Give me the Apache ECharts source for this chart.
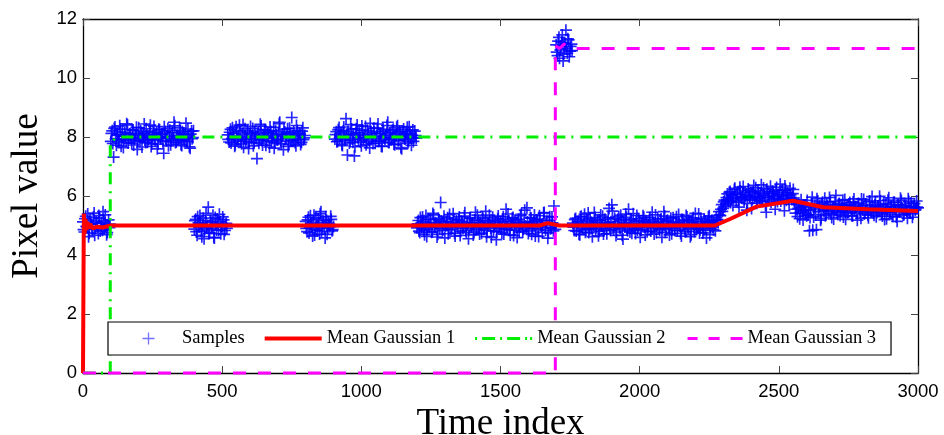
<!DOCTYPE html>
<html>
<head>
<meta charset="utf-8">
<script src="https://cdn.jsdelivr.net/npm/echarts@6/dist/echarts.min.js"></script>
<style>
  html, body { margin: 0; padding: 0; background: #fff; }
  #chart { width: 944px; height: 435px; }
</style>
</head>
<body>
<div id="chart"></div>
<script>
// Time index spacing between consecutive stored samples within a run
const SAMPLE_STEP = 5;

// First time index of each run (two interleaved passes)
const runStarts = [0, 100, 400, 520, 800, 905, 1200, 1700, 1760, 2280, 2560];
const runStarts2 = [2, 102, 402, 522, 802, 907, 1202, 1702, 1762, 2282, 2562];

// Pixel values, first pass (t = start, start+5, ...)
const samplesA = [5.12, 4.78, 5.31, 4.95, 4.62, 5.18, 5.04, 4.87, 5.42, 4.91, 5.08, 4.73, 5.25, 4.98, 4.84, 5.15, 5.36, 4.69, 5.02, 4.93];
const samplesB = [7.85, 8.21, 7.32, 8.34, 7.72, 8.08, 7.91, 8.27, 8.02, 7.64, 8.15, 7.88, 8.41, 7.97, 8.11, 7.79, 8.23, 7.93, 8.05, 7.58,
                  8.31, 7.86, 8.12, 7.99, 8.44, 7.81, 8.07, 7.92, 8.19, 7.68, 8.03, 8.36, 7.89, 8.14, 7.76, 8.25, 7.95, 8.09, 7.45, 8.18,
                  7.87, 8.29, 8.01, 7.74, 8.16, 7.94, 8.38, 7.83, 8.06, 7.97, 8.22, 7.71, 8.13, 7.9, 8.47, 7.84, 8.04, 7.62, 8.2, 7.98];
const samplesC = [4.88, 5.21, 4.67, 5.09, 5.34, 4.81, 5.02, 4.55, 5.17, 4.93, 5.62, 4.76, 5.11, 4.98, 4.6, 5.27, 4.85, 5.05, 5.38, 4.72, 4.96, 5.19, 4.83, 5.07];
const samplesD = [8.07, 7.83, 8.26, 7.95, 8.12, 7.69, 8.35, 7.9, 8.03, 8.18, 7.77, 8.42, 7.98, 7.86, 8.21, 7.61, 8.1, 7.94, 8.29, 7.81,
                  8.05, 7.27, 8.15, 7.92, 8.37, 7.73, 8.01, 8.24, 7.88, 8.11, 7.66, 8.19, 7.96, 8.33, 7.8, 8.08, 7.91, 8.45, 7.85, 8.02,
                  7.57, 8.17, 7.99, 8.28, 7.75, 8.13, 8.66, 7.89, 8.06, 7.7, 8.22, 7.93, 8.09, 7.82, 8.31, 7.97];
const samplesE = [5.14, 4.79, 5.28, 4.92, 5.06, 4.64, 5.35, 4.87, 5.01, 5.22, 4.71, 5.47, 4.95, 5.1, 4.58, 5.18, 4.9, 5.04, 5.31, 4.82, 4.97];
const samplesF = [7.93, 8.18, 7.86, 8.32, 8.04, 7.75, 8.21, 7.97, 8.62, 7.39, 8.09, 7.88, 8.27, 7.82, 7.36, 8.14, 8.41, 7.91, 8.06, 7.7,
                  8.23, 7.99, 8.36, 7.84, 8.11, 7.63, 8.17, 7.95, 8.3, 7.79, 8.03, 8.44, 7.87, 8.12, 7.68, 8.2, 7.92, 8.08, 8.5, 7.81,
                  8.15, 7.96, 8.26, 7.74, 8.02, 8.38, 7.89, 8.13, 7.6, 8.19, 7.94, 8.07, 8.33, 7.85, 8.1, 7.72, 8.24, 7.98, 8.05];
const samplesG = [4.92, 5.17, 4.76, 5.08, 5.29, 4.85, 5.01, 4.63, 5.22, 4.94, 5.11, 4.8, 5.36, 4.97, 5.05, 4.7, 5.19, 5.78, 4.89, 5.13,
                  4.58, 5.03, 5.26, 4.86, 5.1, 4.95, 5.4, 4.74, 5.07, 4.99, 5.2, 4.66, 5.14, 4.9, 5.32, 4.83, 5.04, 4.55, 5.24, 4.96,
                  5.09, 4.78, 5.45, 4.93, 5.16, 4.71, 5.02, 5.28, 4.87, 5.12, 4.62, 5.06, 5.35, 4.91, 5.18, 4.81, 5.0, 4.52, 5.23, 4.97,
                  5.1, 4.75, 5.3, 4.88, 5.55, 4.93, 5.15, 4.68, 5.04, 5.27, 4.84, 5.08, 4.59, 5.21, 4.95, 5.38, 4.79, 5.11, 4.98, 5.6,
                  4.73, 5.06, 5.25, 4.9, 5.13, 4.64, 5.19, 4.86, 5.33, 5.01, 4.77, 5.42, 4.94, 5.09, 4.57, 5.17, 4.89, 5.29, 4.82, 5.03];
const samplesH = [11.12, 10.76, 11.38, 10.95, 11.21, 10.58, 11.05, 11.62, 10.84, 11.29, 10.91, 11.15];
const samplesI = [5.08, 4.83, 5.24, 4.96, 5.14, 4.69, 5.31, 4.9, 5.05, 4.77, 5.19, 5.42, 4.87, 5.11, 4.62, 5.02, 5.27, 4.93, 5.16, 4.8,
                  5.36, 4.98, 4.71, 5.21, 4.89, 5.09, 5.58, 4.84, 5.7, 4.95, 5.25, 4.66, 5.04, 5.3, 4.91, 5.17, 4.54, 5.07, 5.39, 4.86,
                  5.55, 4.78, 5.22, 4.97, 5.03, 4.73, 5.34, 4.92, 5.15, 4.85, 5.01, 5.28, 4.68, 5.1, 4.94, 5.2, 4.81, 5.45, 4.99, 5.06,
                  4.76, 5.23, 4.9, 5.14, 4.6, 5.08, 5.32, 4.87, 5.18, 4.95, 5.02, 4.72, 5.26, 4.93, 5.11, 4.84, 5.37, 4.98, 4.64, 5.16,
                  5.05, 4.79, 5.29, 4.91, 5.12, 4.69, 5.2, 4.96, 5.41, 4.88, 5.07, 4.75, 5.24, 5.0, 4.83, 5.15, 4.58, 5.1, 5.33, 4.92,
                  5.18, 4.86, 5.04, 5.27];
const samplesJ = [5.2, 5.47, 5.33, 5.71, 5.58, 5.86, 5.74, 6.07, 5.82, 6.15, 5.9, 5.68, 6.22, 5.97, 6.05, 5.79, 6.3, 5.93, 6.11, 5.85,
                  6.01, 5.52, 6.24, 5.96, 6.13, 5.88, 6.36, 5.99, 5.76, 6.18, 5.92, 6.06, 5.83, 6.27, 6.0, 5.45, 6.14, 5.94, 6.33, 5.87,
                  6.09, 5.98, 6.21, 5.81, 6.04, 6.4, 5.91, 6.12, 5.5, 6.19, 6.02, 5.89, 6.26, 5.95, 6.08, 5.84];
const samplesK = [5.42, 5.71, 5.58, 5.23, 5.87, 5.5, 5.5, 5.64, 5.33, 5.36, 4.82, 5.55, 5.96, 5.29, 5.68, 4.86, 5.83, 5.61, 5.18, 5.74,
                  5.53, 5.92, 5.38, 5.66, 5.49, 5.8, 5.27, 5.63, 5.57, 6.02, 5.44, 5.72, 5.34, 5.59, 5.86, 5.51, 5.21, 5.69, 5.46, 5.78,
                  5.56, 5.32, 5.9, 5.62, 5.41, 5.75, 5.54, 5.25, 5.67, 5.88, 5.48, 5.6, 5.35, 5.81, 5.52, 5.98, 5.43, 5.7, 5.3, 5.65,
                  5.5, 5.84, 5.39, 5.58, 5.2, 5.73, 5.55, 5.94, 5.45, 5.66, 5.31, 5.79, 5.53, 5.14, 5.69, 5.47, 5.85, 5.57, 5.37, 5.62,
                  5.49, 5.91, 5.42, 5.76, 5.28, 5.64, 5.52, 5.83, 5.6];

// Pixel values, second pass (t = start2, start2+5, ...)
const samplesA2 = [4.86, 5.23, 4.97, 5.39, 4.74, 5.06, 4.9, 5.28, 4.67, 5.13, 4.95, 5.34, 4.81, 5.09, 5.47, 4.89, 5.01, 4.76, 5.19, 5.05];
const samplesB2 = [8.12, 7.78, 8.29, 7.94, 8.06, 7.83, 8.38, 7.69, 8.17, 7.92, 8.03, 8.45, 7.8, 8.1, 7.96, 8.24, 7.73, 8.07, 8.33, 7.87,
                   7.99, 8.2, 7.66, 8.13, 7.9, 8.28, 7.82, 8.04, 8.4, 7.77, 8.16, 7.93, 8.09, 7.6, 8.26, 7.98, 8.11, 7.84, 8.35, 7.95,
                   8.02, 7.7, 8.23, 7.89, 8.14, 8.5, 7.81, 8.05, 7.92, 8.31, 7.75, 8.18, 7.97, 8.08, 7.86, 8.27, 7.67, 8.1, 7.94, 8.21];
const samplesC2 = [5.16, 4.79, 5.3, 4.94, 5.08, 4.62, 5.25, 4.87, 5.41, 5.0, 4.73, 5.14, 4.91, 5.35, 4.58, 5.06, 5.22, 4.84, 5.12, 4.97, 5.29, 4.7, 5.03, 4.9];
const samplesD2 = [7.92, 8.16, 7.8, 8.31, 8.0, 7.74, 8.22, 7.97, 8.4, 7.85, 8.09, 7.65, 8.28, 7.93, 8.14, 7.82, 8.36, 8.01, 7.7, 8.19,
                   7.95, 8.11, 7.79, 8.43, 7.88, 8.06, 8.25, 7.72, 8.15, 7.98, 8.34, 7.84, 8.04, 7.62, 8.21, 7.9, 8.12, 8.5, 7.77, 8.07,
                   8.27, 7.94, 8.1, 7.68, 8.3, 7.87, 8.02, 8.18, 7.81, 8.39, 7.96, 8.13, 7.75, 8.2, 7.91, 8.05];
const samplesE2 = [4.9, 5.19, 4.75, 5.33, 4.98, 5.11, 4.68, 5.26, 4.84, 5.05, 5.4, 4.8, 5.16, 4.93, 5.3, 4.7, 5.08, 4.96, 5.21, 4.86];
const samplesF2 = [8.08, 7.84, 8.25, 7.96, 8.13, 7.71, 8.34, 7.9, 8.05, 8.19, 7.8, 8.42, 7.93, 8.1, 7.67, 8.28, 7.98, 8.15, 7.83, 8.37,
                   7.94, 8.07, 7.74, 8.23, 7.89, 8.46, 8.01, 7.78, 8.17, 7.95, 8.3, 7.86, 8.11, 7.69, 8.26, 7.97, 8.04, 8.39, 7.82, 8.14,
                   7.91, 8.22, 7.76, 8.09, 8.33, 7.88, 8.18, 7.64, 8.03, 8.27, 7.93, 8.12, 7.79, 8.35, 7.99, 8.06, 7.85, 8.2, 7.96];
const samplesG2 = [5.06, 4.81, 5.27, 4.93, 5.13, 4.69, 5.34, 4.88, 5.02, 5.2, 4.77, 5.41, 4.95, 5.09, 4.61, 5.24, 4.91, 5.15, 4.83, 5.31,
                   4.98, 5.12, 4.72, 5.37, 4.87, 5.05, 5.22, 4.64, 5.17, 4.94, 5.29, 4.8, 5.08, 4.97, 5.43, 4.76, 5.11, 4.9, 5.26, 5.03,
                   4.68, 5.19, 4.86, 5.35, 4.96, 5.1, 4.74, 5.23, 4.92, 5.48, 4.83, 5.07, 5.16, 4.6, 5.28, 4.95, 5.13, 4.79, 5.32, 5.0,
                   4.89, 5.21, 4.71, 5.14, 4.97, 5.39, 4.85, 5.06, 5.25, 4.66, 5.18, 4.93, 5.1, 4.78, 5.33, 5.02, 4.88, 5.52, 4.95, 5.12,
                   4.82, 5.27, 4.7, 5.08, 5.36, 4.9, 5.15, 4.63, 5.22, 4.98, 5.04, 5.44, 4.84, 5.17, 4.75, 5.3, 4.92, 5.09, 5.66, 4.87];
const samplesH2 = [10.88, 11.25, 10.67, 11.09, 11.46, 10.81, 11.18, 10.99, 11.33, 10.72, 11.07, 10.93];
const samplesI2 = [4.94, 5.2, 4.81, 5.12, 4.7, 5.29, 4.97, 5.06, 5.38, 4.85, 5.15, 4.76, 5.24, 4.91, 5.03, 5.44, 4.88, 5.1, 4.65, 5.18,
                   4.99, 5.31, 4.83, 5.07, 4.72, 5.26, 4.95, 5.13, 5.49, 4.86, 5.02, 4.78, 5.21, 4.93, 5.35, 4.67, 5.11, 4.96, 5.28, 4.82,
                   5.05, 5.19, 4.74, 5.4, 4.9, 5.14, 4.84, 5.23, 4.6, 5.08, 5.33, 4.95, 5.16, 4.79, 5.02, 5.27, 4.89, 5.12, 4.71, 5.36,
                   4.98, 5.09, 4.85, 5.22, 4.92, 5.47, 4.77, 5.15, 5.04, 4.68, 5.25, 4.9, 5.11, 4.83, 5.3, 4.96, 5.07, 4.73, 5.2, 5.01,
                   4.87, 5.34, 4.94, 5.17, 4.62, 5.1, 5.26, 4.8, 5.05, 4.97, 5.39, 4.86, 5.13, 4.75, 5.21, 4.91, 5.03, 5.29, 4.69, 5.14,
                   4.95, 5.08, 4.82, 5.18];
const samplesJ2 = [5.1, 5.36, 5.55, 5.48, 5.8, 5.64, 5.95, 5.87, 6.12, 5.78, 6.03, 5.92, 6.26, 5.84, 6.08, 5.62, 6.17, 5.96, 6.32, 5.89,
                   6.05, 5.75, 6.2, 5.99, 5.58, 6.14, 5.93, 6.28, 5.86, 6.1, 5.97, 6.38, 5.81, 6.02, 5.68, 6.23, 5.94, 6.09, 5.79, 6.16,
                   6.0, 5.55, 6.29, 5.91, 6.06, 5.83, 6.19, 5.97, 6.34, 5.86, 6.11, 5.72, 6.04, 5.93, 6.22, 5.8];
const samplesK2 = [5.55, 5.3, 5.76, 5.44, 5.62, 5.19, 5.68, 5.4, 5.85, 5.52, 5.27, 5.73, 4.84, 5.6, 5.36, 5.91, 5.47, 5.65, 5.24, 5.79,
                   5.5, 5.33, 5.7, 5.58, 5.95, 5.41, 5.63, 5.22, 5.82, 5.54, 5.37, 5.75, 5.49, 5.67, 5.29, 5.88, 5.56, 5.43, 5.71, 5.6,
                   5.34, 5.8, 5.51, 5.64, 5.18, 5.74, 5.46, 5.9, 5.57, 5.39, 5.69, 5.53, 5.26, 5.83, 5.48, 5.61, 5.35, 5.77, 5.44, 5.66,
                   5.99, 5.5, 5.32, 5.72, 5.58, 5.23, 5.86, 5.45, 5.63, 5.38, 5.78, 5.54, 5.29, 5.7, 5.47, 5.92, 5.59, 5.36, 5.68, 5.52,
                   5.25, 5.81, 5.49, 5.65, 5.4, 5.74, 5.56, 5.62];

const sampleRuns = [samplesA, samplesB, samplesC, samplesD, samplesE, samplesF, samplesG, samplesH, samplesI, samplesJ, samplesK];
const sampleRuns2 = [samplesA2, samplesB2, samplesC2, samplesD2, samplesE2, samplesF2, samplesG2, samplesH2, samplesI2, samplesJ2, samplesK2];

// Estimated means of the three Gaussians, [time index, value]
const meanGaussian1 = [[0, 0], [3, 5.4], [6, 4.72], [9, 5.22], [12, 4.85], [16, 5.12], [20, 4.9], [26, 5.05], [35, 4.9],
                       [50, 4.96], [70, 4.93], [100, 5.0], [1640, 5.0], [1670, 5.08], [1710, 5.0], [2270, 5.0],
                       [2325, 5.22], [2420, 5.64], [2550, 5.84], [2660, 5.62], [2820, 5.55], [3000, 5.49]];
const meanGaussian2 = [[0, 0], [98, 0], [98, 7.75], [115, 7.95], [140, 8.0], [3000, 8.0]];
const meanGaussian3 = [[0, 0], [1697, 0], [1697, 11.1], [1712, 11.0], [1728, 11.15], [1750, 11.02], [1770, 11.0], [3000, 11.0]];

// Axis ticks
const xTicks = { min: 0, max: 3000, step: 500 };
const yTicks = { min: 0, max: 12, step: 2 };

const seriesNames = ['Samples', 'Mean Gaussian 1', 'Mean Gaussian 2', 'Mean Gaussian 3'];

const sampleData = [];
function addRuns(runs, starts) {
  runs.forEach(function (run, r) {
    run.forEach(function (v, i) { sampleData.push([starts[r] + i * SAMPLE_STEP, v]); });
  });
}
addRuns(sampleRuns, runStarts);
addRuns(sampleRuns2, runStarts2);

// '+' marker for the samples
const plusPath = 'path://M4.3,0h1.4v10h-1.4z M0,4.3h10v1.4h-10z';

// Legend icons, all drawn in a 57 x 12 box (tiny corner squares fix the box size)
const iconBox = 'M0,0h0.01v0.01h-0.01z M56.99,11.99h0.01v0.01h-0.01z ';
const legendIcons = [
  'path://' + iconBox + 'M27.85,0h1.3v12h-1.3z M22.5,5.35h12v1.3h-12z',
  'path://' + iconBox + 'M0,4h57v4h-57z',
  'path://' + iconBox + 'M0,4.5h2v3h-2z M7,4.5h13v3h-13z M25,4.5h2v3h-2z M32,4.5h13v3h-13z M50,4.5h2v3h-2z M55,4.5h2v3h-2z',
  'path://' + iconBox + 'M2,4.5h10v3h-10z M23,4.5h11v3h-11z M45,4.5h12v3h-12z'
];

const tickFont = { fontFamily: 'Liberation Sans', fontSize: 18.5, color: '#000' };
const titleFont = { fontFamily: 'Liberation Serif', fontSize: 37, color: '#000' };

function frameAxis(extra) {
  return Object.assign({
    type: 'value',
    axisLine: { show: true, onZero: false, lineStyle: { color: '#000', width: 1.3 } },
    axisTick: { show: true, inside: true, length: 7, lineStyle: { color: '#444', width: 1 } },
    splitLine: { show: false }
  }, extra);
}

const plainNumber = function (v) { return String(v); };

const chart = echarts.init(document.getElementById('chart'), null, { renderer: 'canvas' });
chart.setOption({
  animation: false,
  backgroundColor: '#fff',
  grid: { left: 83, right: 26, top: 19, bottom: 62, containLabel: false, outerBoundsMode: 'none' },
  xAxis: [
    frameAxis({
      position: 'bottom', min: xTicks.min, max: xTicks.max, interval: xTicks.step,
      axisLabel: Object.assign({ margin: 9, formatter: plainNumber }, tickFont),
      name: 'Time index', nameLocation: 'middle', nameGap: 22, nameTextStyle: titleFont
    }),
    frameAxis({
      position: 'top', min: xTicks.min, max: xTicks.max, interval: xTicks.step,
      axisLabel: { show: false }
    })
  ],
  yAxis: [
    frameAxis({
      position: 'left', min: yTicks.min, max: yTicks.max, interval: yTicks.step,
      axisLabel: Object.assign({ margin: 6, formatter: plainNumber }, tickFont),
      name: 'Pixel value', nameLocation: 'middle', nameRotate: 90, nameGap: 31, nameTextStyle: titleFont
    }),
    frameAxis({
      position: 'right', min: yTicks.min, max: yTicks.max, interval: yTicks.step,
      axisLabel: { show: false }
    })
  ],
  legend: {
    left: 108, top: 322,
    orient: 'horizontal',
    backgroundColor: '#fff',
    borderColor: '#000', borderWidth: 1.2, borderRadius: 0,
    padding: [6, 15, 6, 12],
    itemWidth: 57, itemHeight: 12, itemGap: 20,
    symbolKeepAspect: false,
    selectedMode: false,
    itemStyle: { borderWidth: 0 },
    textStyle: { fontFamily: 'Liberation Serif', fontSize: 18.5, color: '#000', lineHeight: 21 },
    data: [
      { name: seriesNames[0], icon: legendIcons[0], itemStyle: { color: '#5a5aff' } },
      { name: seriesNames[1], icon: legendIcons[1] },
      { name: seriesNames[2], icon: legendIcons[2] },
      { name: seriesNames[3], icon: legendIcons[3] }
    ]
  },
  series: [
    {
      name: seriesNames[0], type: 'scatter', data: sampleData,
      symbol: plusPath, symbolSize: 12, large: false,
      itemStyle: { color: '#0000ff', opacity: 0.85 },
      z: 2
    },
    {
      name: seriesNames[1], type: 'line', data: meanGaussian1, showSymbol: false, symbol: 'none', clip: false,
      itemStyle: { color: '#ff0000' },
      lineStyle: { color: '#ff0000', width: 4 }, z: 3
    },
    {
      name: seriesNames[2], type: 'line', data: meanGaussian2, showSymbol: false, symbol: 'none', clip: false,
      itemStyle: { color: '#00ee00' },
      lineStyle: { color: '#00ee00', width: 3, type: [12, 6, 2, 7] }, z: 3
    },
    {
      name: seriesNames[3], type: 'line', data: meanGaussian3, showSymbol: false, symbol: 'none', clip: false,
      itemStyle: { color: '#ff00ff' },
      lineStyle: { color: '#ff00ff', width: 3, type: [13, 12] }, z: 3
    }
  ]
});
</script>
</body>
</html>
